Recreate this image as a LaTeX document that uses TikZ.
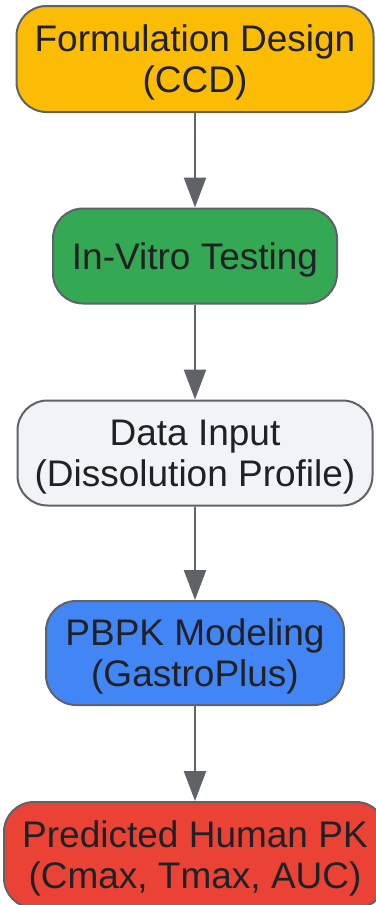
\documentclass[tikz,border=0pt]{standalone}
\usepackage{fontspec}
\setmainfont{Liberation Sans}
\usetikzlibrary{arrows.meta}

\definecolor{edgegray}{HTML}{5F6368}
\definecolor{textdark}{HTML}{202124}
\definecolor{stepyellow}{HTML}{FBBC05}
\definecolor{stepgreen}{HTML}{34A853}
\definecolor{steplight}{HTML}{F1F3F4}
\definecolor{stepblue}{HTML}{4285F4}
\definecolor{stepred}{HTML}{EA4335}

\tikzset{
    stagebox/.style={draw=edgegray, line width=2pt, rounded corners=30pt,
        align=center, inner sep=0pt, text=textdark, text depth=0pt,
        font=\fontsize{37}{41}\selectfont},
    flowarrow/.style={draw=edgegray, line width=2.5pt,
        -{Triangle[length=30pt,width=22pt]}}
}

\begin{document}
\begin{tikzpicture}[x=1pt,y=-1pt]
    \useasboundingbox (0,0) rectangle (375,905);
    % stages, top to bottom
    \node[stagebox, fill=stepyellow, minimum width=357pt, minimum height=106pt] (design) at (195,59) {Formulation Design\\(CCD)};
    \node[stagebox, fill=stepgreen, minimum width=284pt, minimum height=95pt] (invitro) at (195,256) {In-Vitro Testing};
    \node[stagebox, fill=steplight, minimum width=355pt, minimum height=105pt] (datain) at (195,453) {Data Input\\(Dissolution Profile)};
    \node[stagebox, fill=stepblue, minimum width=298pt, minimum height=104pt] (pbpk) at (195,653) {PBPK Modeling\\(GastroPlus)};
    \node[stagebox, fill=stepred, minimum width=382pt, minimum height=106pt] (predpk) at (195,855) {Predicted Human PK\\(Cmax, Tmax, AUC)};
    % arrows
    \draw[flowarrow] (design) -- (invitro);
    \draw[flowarrow] (invitro) -- (datain);
    \draw[flowarrow] (datain) -- (pbpk);
    \draw[flowarrow] (pbpk) -- (predpk);
\end{tikzpicture}
\end{document}
